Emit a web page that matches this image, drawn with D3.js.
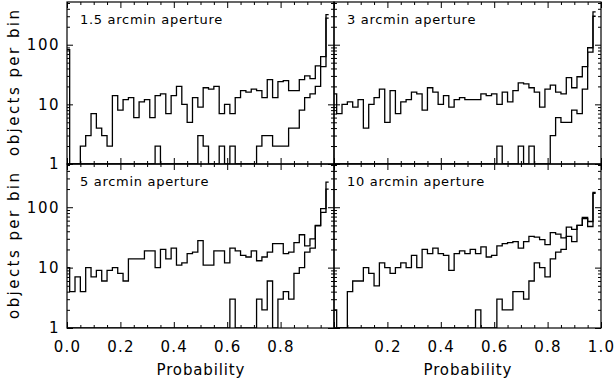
<!DOCTYPE html>
<html>
<head>
<meta charset="utf-8">
<script src="https://cdn.jsdelivr.net/npm/d3@7"></script>
<style>
  body { margin: 0; background: #fff; }
  svg text { font-family: "DejaVu Sans", sans-serif; fill: #000; }
</style>
</head>
<body>
<svg id="chart"></svg>
<script>
const width = 614;
const height = 380;

// bin starts: 50 bins of width 0.02
const binWidth = 0.02;
const bins = d3.range(50).map(i => +(i * binWidth).toFixed(2));

const titles = ["1.5 arcmin aperture", "3 arcmin aperture", "5 arcmin aperture", "10 arcmin aperture"];

// objects per bin, all objects (upper curve) and selected objects (lower curve)
const all15 = [83,1,1,2,3,7,4,3,2,14, 8,12,13,6,11,12,6,14,15,7, 14,20,10,5,13,9,19,18,20,7, 10,7,13,17,16,18,17,13,26,13, 24,25,17,17,26,30,27,44,63,320];
const sel15 = [0,0,0,0,0,0,0,0,0,0, 0,0,0,0,0,0,0,2,0,0, 0,0,0,0,0,3,2,0,0,2, 0,2,0,0,0,0,2,3,3,2, 2,2,4,4,8,13,15,20,43,280];

const all3 = [15,7,10,11,9,12,4,10,13,18, 5,17,7,11,12,16,15,8,19,16, 10,14,9,12,13,12,12,12,15,14, 15,10,16,11,17,23,22,19,16,9, 18,21,16,15,28,19,29,43,89,355];
const sel3 = [0,0,0,0,0,0,0,0,0,0, 0,0,0,0,0,0,0,0,0,0, 0,0,0,0,0,0,0,0,0,0, 0,2,0,0,0,2,0,2,0,0, 0,3,6,5,5,8,7,18,75,300];

const all5 = [10,4,7,4,10,7,9,6,9,10, 8,6,14,14,14,19,19,10,20,14, 21,11,12,17,18,28,11,11,19,19, 12,21,19,16,15,19,13,15,18,25, 25,17,18,26,35,23,30,50,95,260];
const sel5 = [0,0,0,0,0,0,0,0,0,0, 0,0,0,0,0,0,0,0,0,0, 0,0,0,0,0,0,0,0,0,0, 0,3,0,0,0,0,3,2,6,0, 3,4,3,8,10,18,21,49,82,200];

const all10 = [2,0,0,4,6,6,10,8,5,12, 10,8,10,12,10,16,10,20,17,21, 17,16,9,17,19,17,20,17,22,15, 16,23,25,26,27,21,27,33,32,29, 24,38,36,31,47,43,50,65,48,176];
const sel10 = [0,0,0,0,0,0,0,0,0,0, 0,0,0,0,0,0,0,0,0,0, 0,0,0,0,0,0,0,2,0,0, 0,3,2,2,4,4,3,6,12,10, 7,14,18,20,33,27,50,68,58,170];

const xMajor = [0, 0.2, 0.4, 0.6, 0.8, 1.0];
const yMajor = [1, 10, 100];
const yLabels = ["1", "10", "100"];

const panels = [
  { title: titles[0], all: all15, sel: sel15, row: 0, col: 0 },
  { title: titles[1], all: all3, sel: sel3, row: 0, col: 1 },
  { title: titles[2], all: all5, sel: sel5, row: 1, col: 0 },
  { title: titles[3], all: all10, sel: sel10, row: 1, col: 1 }
];

const cols = [[67, 334], [334, 601]];
const rows = [[2, 164], [164, 328]];
const yDomain = [1, 520];

const svg = d3.select("#chart")
  .attr("width", width)
  .attr("height", height);

const xMinor = d3.range(0, 1.0001, 0.05).map(v => +v.toFixed(2)).filter(v => !xMajor.includes(v));
const yMinor = [];
[1, 10, 100].forEach(d => d3.range(2, 10).forEach(m => { if (d * m <= 520) yMinor.push(d * m); }));

panels.forEach((p, i) => {
  const [x0, x1] = cols[p.col];
  const [y0, y1] = rows[p.row];
  const x = d3.scaleLinear().domain([0, 1]).range([x0, x1]);
  const y = d3.scaleLog().domain(yDomain).range([y1, y0]);

  const g = svg.append("g");

  g.append("clipPath").attr("id", "clip" + i)
    .append("rect").attr("x", x0).attr("y", y0).attr("width", x1 - x0).attr("height", y1 - y0);

  const line = d3.line()
    .curve(d3.curveStep)
    .x((d, k) => x(bins[k]))
    .y(d => y(Math.max(d, 1)));

  [p.sel, p.all].forEach(series => {
    g.append("path")
      .attr("clip-path", `url(#clip${i})`)
      .attr("d", line(series))
      .attr("fill", "none")
      .attr("stroke", "#000")
      .attr("stroke-width", 1.3);
  });

  // ticks, pointing inward on all four sides
  const addAxis = (axis, tx, ty) => {
    const a = g.append("g").attr("transform", `translate(${tx},${ty})`).call(axis);
    a.select(".domain").remove();
    a.selectAll("line").attr("stroke", "#000").attr("stroke-width", 1);
    a.selectAll("text").remove();
  };
  addAxis(d3.axisBottom(x).tickValues(xMajor).tickSize(-6), 0, y1);
  addAxis(d3.axisBottom(x).tickValues(xMinor).tickSize(-3), 0, y1);
  addAxis(d3.axisTop(x).tickValues(xMajor).tickSize(-6), 0, y0);
  addAxis(d3.axisTop(x).tickValues(xMinor).tickSize(-3), 0, y0);
  addAxis(d3.axisLeft(y).tickValues(yMajor).tickSize(-6), x0, 0);
  addAxis(d3.axisLeft(y).tickValues(yMinor).tickSize(-3), x0, 0);
  addAxis(d3.axisRight(y).tickValues(yMajor).tickSize(-6), x1, 0);
  addAxis(d3.axisRight(y).tickValues(yMinor).tickSize(-3), x1, 0);

  g.append("rect")
    .attr("x", x0).attr("y", y0)
    .attr("width", x1 - x0).attr("height", y1 - y0)
    .attr("fill", "none").attr("stroke", "#000").attr("stroke-width", 1.2);

  g.append("text")
    .attr("x", x0 + 13)
    .attr("y", y0 + 22)
    .style("font-size", "13px")
    .style("letter-spacing", "0.7px")
    .text(p.title);

  if (p.col === 0) {
    const ya = g.append("g").attr("transform", `translate(${x0},0)`)
      .call(d3.axisLeft(y).tickValues(yMajor).tickSize(0).tickPadding(7)
        .tickFormat((d, k) => yLabels[k]));
    ya.select(".domain").remove();
    ya.selectAll("text")
      .style("font-size", "15px")
      .style("letter-spacing", "1.5px")
      .style("font-family", "DejaVu Sans, sans-serif");

    g.append("text")
      .attr("transform", `translate(14,${(y0 + y1) / 2}) rotate(-90)`)
      .attr("text-anchor", "middle")
      .attr("dominant-baseline", "central")
      .attr("textLength", 146)
      .attr("lengthAdjust", "spacing")
      .style("font-size", "15px")
      .text("objects per bin");
  }

  if (p.row === 1) {
    const ticks = p.col === 0 ? xMajor.slice(0, 5) : xMajor.slice(1);
    const xa = g.append("g").attr("transform", `translate(0,${y1})`)
      .call(d3.axisBottom(x).tickValues(ticks).tickSize(0).tickPadding(13)
        .tickFormat(d3.format(".1f")));
    xa.select(".domain").remove();
    xa.selectAll("text")
      .style("font-size", "15px")
      .style("letter-spacing", "1.2px")
      .style("font-family", "DejaVu Sans, sans-serif");

    g.append("text")
      .attr("x", (x0 + x1) / 2)
      .attr("y", 375)
      .attr("text-anchor", "middle")
      .attr("textLength", 88)
      .attr("lengthAdjust", "spacing")
      .style("font-size", "15px")
      .text("Probability");
  }
});
</script>
</body>
</html>
